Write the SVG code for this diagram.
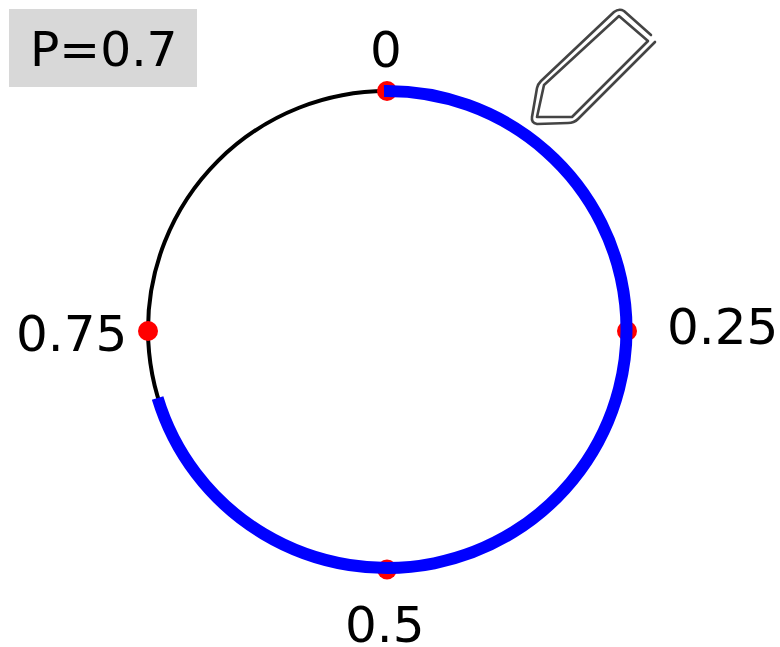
<svg xmlns="http://www.w3.org/2000/svg" width="780" height="647" viewBox="0 0 780 647">
<style>
text{font-family:"DejaVu Sans",sans-serif;font-size:50px;fill:#000}
.pt{fill:#f00}
.pen{fill:none;stroke:#444;stroke-width:2.6;stroke-linejoin:round;stroke-linecap:round}
</style>
<rect width="780" height="647" fill="#fff"/>
<g id="badge"><rect x="9" y="9" width="188" height="78" fill="#d8d8d8"/><text x="30" y="66" style="font-size:48.7px">P=0.7</text></g>
<g id="pencil">
<path class="pen" d="M655 42L578 119Q574 123 568 123L537 124Q531 123 532 117L537 88Q538 84 541 81L614 12Q619 8 624 11L651 35"/>
<path class="pen" d="M648 41L619 16L544 85L537 117L572 117Z"/>
</g>
<g id="connectors">
<ellipse cx="387" cy="329.500" rx="239" ry="238.500" fill="none" stroke="#000" stroke-width="4"/>
</g>
<g id="p0"><circle class="pt" cx="387" cy="91" r="10"/><text x="370" y="67">0</text></g>
<g id="p25"><circle class="pt" cx="627" cy="331" r="10"/><text x="667" y="344">0.25</text></g>
<g id="p5"><circle class="pt" cx="387" cy="569.500" r="10"/><text x="345" y="642">0.5</text></g>
<g id="p75"><circle class="pt" cx="148" cy="331" r="10"/><text x="16" y="351">0.75</text></g>
<g id="arc"><path d="M384 91A239.500 238.500 0 1 1 157.600 398" fill="none" stroke="#00f" stroke-width="12"/></g>
</svg>
